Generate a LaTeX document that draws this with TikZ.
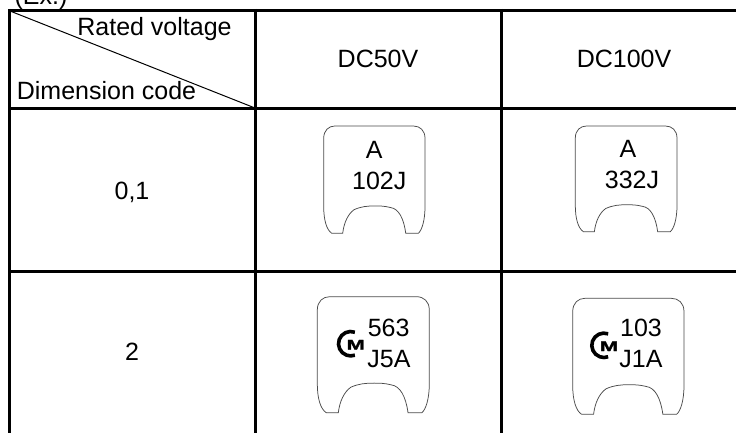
\documentclass[tikz,border=0pt]{standalone}
\usepackage{fontspec}
\setmainfont{Liberation Sans}
\newfontfamily\logofont[BoldFont={Liberation Sans Bold},BoldFeatures={FakeBold=1.6}]{Liberation Sans}
\usetikzlibrary{calc}
\tikzset{
  gridline/.style={line width=3pt,line cap=butt},
  diagline/.style={line width=1pt},
  chipline/.style={line width=0.75pt,draw=black!70},
  lbl/.style={inner sep=0pt,outer sep=0pt,anchor=base,font=\fontsize{25}{25}\selectfont},
  logoC/.style={line width=3.6pt},
  logoM/.style={inner sep=0pt,outer sep=0pt,font=\fontsize{14}{14}\selectfont\logofont\bfseries}
}
\newcommand{\chipoutline}[4]{%
  \begin{scope}[shift={(#1,#2)},x=#3pt,y=-#4pt]
    \draw[chipline] (.08,1) .. controls (.03,.97) and (0,.88) .. (0,.75)
      -- (0,.115) .. controls (0,.04) and (.05,0) .. (.11,0)
      -- (.885,0) .. controls (.95,0) and (1,.04) .. (1,.115)
      -- (1,.75) .. controls (1,.88) and (.97,.97) .. (.934,1)
      -- (.81,1) .. controls (.79,.86) and (.74,.77) .. (.66,.76)
      .. controls (.6,.745) and (.55,.745) .. (.507,.745)
      .. controls (.43,.745) and (.37,.75) .. (.3,.78)
      .. controls (.24,.82) and (.2,.9) .. (.1875,1) -- cycle;
  \end{scope}}
\newcommand{\cmlogo}[3]{%
  \draw[logoC] ($(#2,#3)+(4.17,-11.46)$) arc[start angle=70,end angle=290,radius=12.2pt];
  \node[logoM] (#1) at ($(#2,#3)+(5,1)$) {\scalebox{1.55}[1]{M}};}
\begin{document}
\begin{tikzpicture}[x=1pt,y=-1pt]
  \clip (0,0) rectangle (736,433);
  \fill[white] (0,0) rectangle (736,433);
  % grid
  \draw[gridline] (8,10.5) -- (736,10.5);
  \draw[gridline] (8,108.5) -- (736,108.5);
  \draw[gridline] (8,271.5) -- (736,271.5);
  \draw[gridline] (9.5,9) -- (9.5,433);
  \draw[gridline] (255.5,9) -- (255.5,433);
  \draw[gridline] (501.5,9) -- (501.5,433);
  \draw[diagline] (10,11) -- (255,108);
  % header
  \node[lbl] (ex) at (41,5) {(Ex.)};
  \node[lbl] (rated) at (154.5,35.7) {Rated voltage};
  \node[lbl] (dim) at (106.5,100) {Dimension code};
  \node[lbl] (dc50) at (378,68) {DC50V};
  \node[lbl] (dc100) at (624,68) {DC100V};
  \node[lbl] (r1) at (132,199) {0,1};
  \node[lbl] (r2) at (132,360) {2};
  % chips
  \chipoutline{323.7}{126}{101.3}{107.3}
  \node[lbl] (a1) at (374.3,158.3) {A};
  \node[lbl] (c1) at (379.3,189) {102J};
  \chipoutline{575.3}{126}{101.7}{105.7}
  \node[lbl] (a2) at (628,157.3) {A};
  \node[lbl] (c2) at (632,188.3) {332J};
  \chipoutline{317.3}{296.7}{112}{116}
  \cmlogo{m3}{350.7}{343.7}
  \node[lbl] (t3) at (388.7,336) {563};
  \node[lbl] (b3) at (389,367.3) {J5A};
  \chipoutline{572.7}{298.3}{111.3}{116}
  \cmlogo{m4}{604}{345.3}
  \node[lbl] (t4) at (641,336) {103};
  \node[lbl] (b4) at (641,367.3) {J1A};
\end{tikzpicture}
\end{document}
